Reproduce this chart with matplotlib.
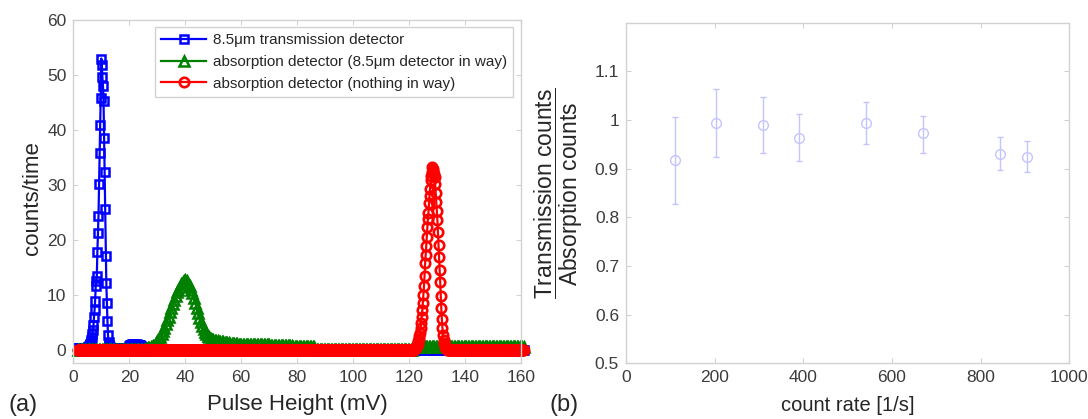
"""
Pulse-height spectra (a) and transmission/absorption ratio vs count rate (b).
"""

import numpy as np
import matplotlib
matplotlib.use("Agg")
import matplotlib.pyplot as plt
from matplotlib.ticker import FuncFormatter

# Settings
plt.rcParams["font.family"] = ["Liberation Sans", "DejaVu Sans"]
plt.rcParams["mathtext.fontset"] = "custom"
plt.rcParams["mathtext.rm"] = "Liberation Sans"
plt.rcParams["mathtext.it"] = "Liberation Sans:italic"

AXIS_GRAY = "#d2d2d2"
TICK_TEXT = "#3c3c3c"
LABEL_TEXT = "#262626"

# Data: (a) pulse height spectra, values are counts/time per bin
FINE_STEP = 0.2     # mV, blue and red spectra
COARSE_STEP = 0.5   # mV, green spectrum
X_LO, X_HI = 1.6, 161.0

# 8.5um transmission detector
BLUE_LEVEL_LOW = 0.3     # 1.6 - 4.8 mV
BLUE_PEAK_START = 5.0
BLUE_PEAK = [0.4, 0.5, 0.6, 0.8, 1.0, 1.2, 1.5, 1.8, 2.4, 3.0,
             3.6, 4.5, 6.1, 7.3, 9.0, 11.6, 12.5, 13.5, 17.9, 21.2,
             24.4, 30.2, 35.9, 41.0, 45.9, 53.0, 51.8, 49.6, 48.0, 45.3,
             38.5, 32.3, 25.6, 17.1, 12.2, 8.5, 5.3, 2.7, 1.5, 0.9, 0.6]
BLUE_LEVEL_MID = 0.4     # 13.2 - 19.8 mV
BLUE_BUMP_START = 20.0
BLUE_BUMP = [0.7, 0.8, 0.9, 1.0, 1.0, 1.1, 1.0, 1.1, 1.0, 1.0,
             1.1, 1.0, 1.0, 1.1, 1.0, 1.0, 0.9, 1.0, 0.9, 0.9,
             0.8, 0.7, 0.6, 0.5, 0.3, 0.2]

# absorption detector, 8.5um detector in way
GREEN_PEAK_START = 26.0
GREEN_PEAK = [0.2, 0.3, 0.4, 0.5, 0.6, 0.8, 1.0, 1.3, 1.6, 2.0,
              2.4, 2.9, 3.4, 4.0, 4.7, 5.4, 6.1, 6.9, 7.6, 8.4,
              9.1, 9.8, 10.5, 11.0, 11.5, 12.0, 12.3, 12.6, 12.7, 12.5,
              12.1, 11.6, 11.0, 10.3, 9.5, 8.6, 7.7, 6.8, 5.9, 5.1,
              4.4, 3.8, 3.3, 2.9, 2.6, 2.3, 2.1, 1.9, 1.8, 1.7,
              1.65, 1.6, 1.55, 1.5, 1.45, 1.4, 1.35, 1.3, 1.3, 1.25,
              1.2, 1.2, 1.15, 1.1, 1.1, 1.05, 1.0, 1.0, 1.0]
GREEN_TAIL = [(60.5, 70.0, 0.9), (70.5, 78.0, 0.7), (78.5, 86.0, 0.5),
              (121.5, 161.0, 0.5)]

# absorption detector, nothing in way
RED_PEAK_START = 122.0
RED_PEAK = [0.2, 0.3, 0.4, 0.5, 0.7, 0.9, 1.2, 1.6, 2.0, 2.6,
            3.2, 4.0, 5.0, 6.1, 7.2, 8.6, 10.0, 11.6, 13.4, 15.8,
            17.2, 18.9, 20.6, 22.3, 23.9, 25.0, 26.8, 28.1, 29.3, 30.9,
            31.6, 32.4, 33.3, 32.9, 32.6, 32.0, 31.5, 30.2, 28.6, 27.0,
            25.3, 23.6, 21.4, 19.1, 16.9, 14.6, 12.4, 9.9, 7.6, 5.6,
            4.0, 2.8, 1.9, 1.3, 0.9, 0.6, 0.4, 0.3, 0.2, 0.1]

SERIES_LABELS = ["8.5\u03bcm transmission detector",
                 "absorption detector (8.5\u03bcm detector in way)",
                 "absorption detector (nothing in way)"]

# Data: (b) ratio vs count rate
RATE = [111, 204, 309, 390, 541, 670, 843, 905]
RATIO = [0.917, 0.994, 0.990, 0.964, 0.994, 0.973, 0.930, 0.925]
RATIO_HI = [1.007, 1.063, 1.047, 1.012, 1.037, 1.009, 0.965, 0.957]
RATIO_LO = [0.828, 0.925, 0.933, 0.915, 0.951, 0.932, 0.898, 0.894]


def build_spectrum(step, segments, levels=()):
    x = np.arange(X_LO, X_HI + step / 2, step)
    y = np.zeros_like(x)
    for lo, hi, level in levels:
        i0 = int(round((lo - X_LO) / step))
        i1 = int(round((hi - X_LO) / step)) + 1
        y[i0:i1] = level
    for start, vals in segments:
        i = int(round((start - X_LO) / step))
        y[i:i + len(vals)] = vals
    return x, y


def style_axes(ax):
    for sp in ax.spines.values():
        sp.set_color(AXIS_GRAY)
        sp.set_linewidth(1.0)
    ax.tick_params(direction="in", top=True, right=True, length=3.5,
                   width=0.8, color=AXIS_GRAY, labelcolor=TICK_TEXT,
                   labelsize=12.5, pad=5)


xb, yb = build_spectrum(FINE_STEP,
                        [(BLUE_PEAK_START, BLUE_PEAK), (BLUE_BUMP_START, BLUE_BUMP)],
                        [(X_LO, 4.8, BLUE_LEVEL_LOW), (13.2, 19.8, BLUE_LEVEL_MID)])
xg, yg = build_spectrum(COARSE_STEP, [(GREEN_PEAK_START, GREEN_PEAK)], GREEN_TAIL)
xr, yr = build_spectrum(FINE_STEP, [(RED_PEAK_START, RED_PEAK)])

fig = plt.figure(figsize=(10.88, 4.19), dpi=100)

# (a)
ax1 = fig.add_axes([0.0674, 0.1329, 0.4112, 0.8194])
ax1.plot(xb, yb, "-s", color="#0000ff", mfc="none", ms=5.5, mew=1.8, lw=1.6,
         clip_on=False, label=SERIES_LABELS[0])
ax1.plot(xg, yg, "-^", color="#008000", mfc="none", ms=6.5, mew=1.8, lw=1.6,
         clip_on=False, label=SERIES_LABELS[1])
ax1.plot(xr, yr, "-o", color="#ff0000", mfc="none", ms=6.8, mew=1.9, lw=1.6,
         clip_on=False, label=SERIES_LABELS[2])
ax1.set_xlim(0, 160)
ax1.set_ylim(-2.4, 60)
ax1.set_xticks(np.arange(0, 161, 20))
ax1.set_yticks(np.arange(0, 61, 10))
style_axes(ax1)
ax1.set_xlabel("Pulse Height (mV)", fontsize=16, color=LABEL_TEXT, labelpad=6)
ax1.set_ylabel("counts/time", fontsize=16, color=LABEL_TEXT)
ax1.yaxis.set_label_coords(-0.068, 0.48)
leg = ax1.legend(loc="upper right", bbox_to_anchor=(0.9835, 0.9787),
                 borderaxespad=0, fontsize=11, handlelength=2.95,
                 handletextpad=0.45, labelspacing=0.5, borderpad=0.4,
                 fancybox=False, framealpha=1)
leg.get_frame().set_edgecolor(AXIS_GRAY)
leg.get_frame().set_linewidth(1.0)
for t in leg.get_texts():
    t.set_color(LABEL_TEXT)
fig.text(0.008, 0.018, "(a)", fontsize=17, color=LABEL_TEXT)

# (b)
ax2 = fig.add_axes([0.5754, 0.1329, 0.4074, 0.8129])
ax2.errorbar(RATE, RATIO,
             yerr=[np.subtract(RATIO, RATIO_LO), np.subtract(RATIO_HI, RATIO)],
             fmt="o", color="#c4c4ff", mfc="none", ms=7, mew=1.0,
             elinewidth=1.0, capsize=2.3, capthick=1.0)
ax2.set_xlim(0, 1000)
ax2.set_ylim(0.5, 1.2)
ax2.set_xticks(np.arange(0, 1001, 200))
ax2.set_yticks([0.5, 0.6, 0.7, 0.8, 0.9, 1.0, 1.1])
ax2.yaxis.set_major_formatter(FuncFormatter(lambda v, p: f"{v:g}"))
style_axes(ax2)
ax2.set_xlabel("count rate [1/s]", fontsize=14.5, color=LABEL_TEXT, labelpad=8)
ax2.set_ylabel(r"$\dfrac{\mathrm{Transmission\ counts}}{\mathrm{Absorption\ counts}}$",
               fontsize=16.5, color=LABEL_TEXT)
ax2.yaxis.set_label_coords(-0.092, 0.5)
fig.text(0.505, 0.02, "(b)", fontsize=17, color=LABEL_TEXT)

fig.savefig("out.png", dpi=100)
